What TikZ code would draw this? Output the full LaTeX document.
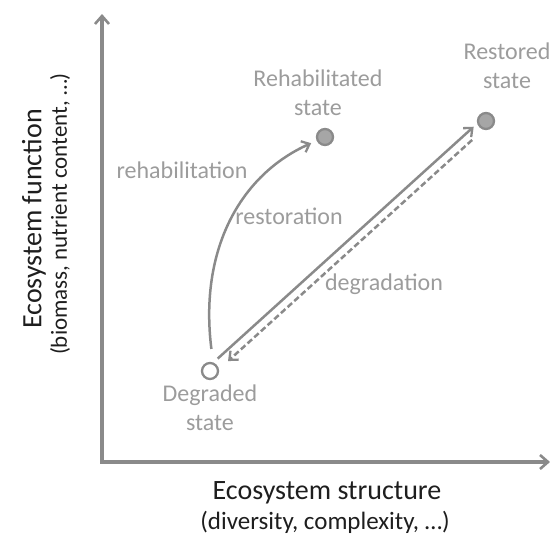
\documentclass[tikz,border=0pt]{standalone}
\usepackage{fontspec}
\setmainfont{Carlito}
\usetikzlibrary{arrows.meta}
\definecolor{linegray}{HTML}{8A8A8A}
\definecolor{textgray}{HTML}{9C9C9C}
\definecolor{fillgray}{HTML}{A6A6A6}
\definecolor{darktext}{HTML}{1E1E1E}
\tikzset{
  axisline/.style={draw=linegray, line width=3.2pt, {Straight Barb[length=8pt,width=14pt,line width=2.6pt]}-{Straight Barb[length=8pt,width=14pt,line width=2.6pt]}},
  flow/.style={draw=linegray, line width=2.5pt, -{Straight Barb[length=7pt,width=12pt,line width=2.3pt]}},
  dashflow/.style={flow, dash pattern=on 6pt off 3pt},
  statedot/.style={circle, draw=linegray, line width=2.3pt, minimum size=16pt, inner sep=0pt},
  statelabel/.style={text=textgray, font=\fontsize{24}{29}\selectfont, align=center},
  arrowlabel/.style={text=textgray, font=\fontsize{24}{29}\selectfont},
  axislabel/.style={text=darktext, font=\fontsize{28}{33}\selectfont},
}
\begin{document}
\begin{tikzpicture}[x=1pt,y=-1pt]
\useasboundingbox (0,0) rectangle (550,538);
% axes
\coordinate (ytop) at (102,14);
\coordinate (origin) at (102,462);
\coordinate (xend) at (550,462);
\draw[axisline] (ytop) -- (origin) -- (xend);
% state dots
\node[statedot, fill=white] (deg) at (210,371) {};
\node[statedot, fill=fillgray] (rehab) at (325,137) {};
\node[statedot, fill=fillgray] (rest) at (486,121) {};
% state labels
\node[statelabel] (deglab) at (210,408) {Degraded\\state};
\node[statelabel] (rehablab) at (318,93) {Rehabilitated\\state};
\node[statelabel] (restlab) at (507,66) {Restored\\state};
% transitions
\draw[flow, shorten <=14pt, shorten >=13pt] ([shift={(-2.7,-3)}]deg.center) -- ([shift={(-2.7,-3)}]rest.center);
\draw[dashflow, shorten <=23pt, shorten >=20pt] ([shift={(3.2,3.5)}]rest.center) -- ([shift={(3.2,3.5)}]deg.center);
\draw[flow, shorten <=13pt, shorten >=6pt] ([xshift=3pt]deg.north) .. controls (199,250) and (240,175) .. (rehab);
% arrow labels
\node[arrowlabel] (rehabtxt) at (182,170) {rehabilitation};
\node[arrowlabel] (resttxt) at (289,216) {restoration};
\node[arrowlabel] (degtxt) at (384,284) {degradation};
% axis labels
\node[axislabel] (xlab) at (327,493) {Ecosystem structure};
\node[text=darktext, font=\fontsize{25}{30}\selectfont] (xsub) at (325,522) {(diversity, complexity, …)};
\node[axislabel, rotate=90] (ylab) at (34,219) {Ecosystem function};
\node[text=darktext, font=\fontsize{23}{28}\selectfont, rotate=90] (ysub) at (60,214) {(biomass, nutrient content, …)};
\end{tikzpicture}
\end{document}
